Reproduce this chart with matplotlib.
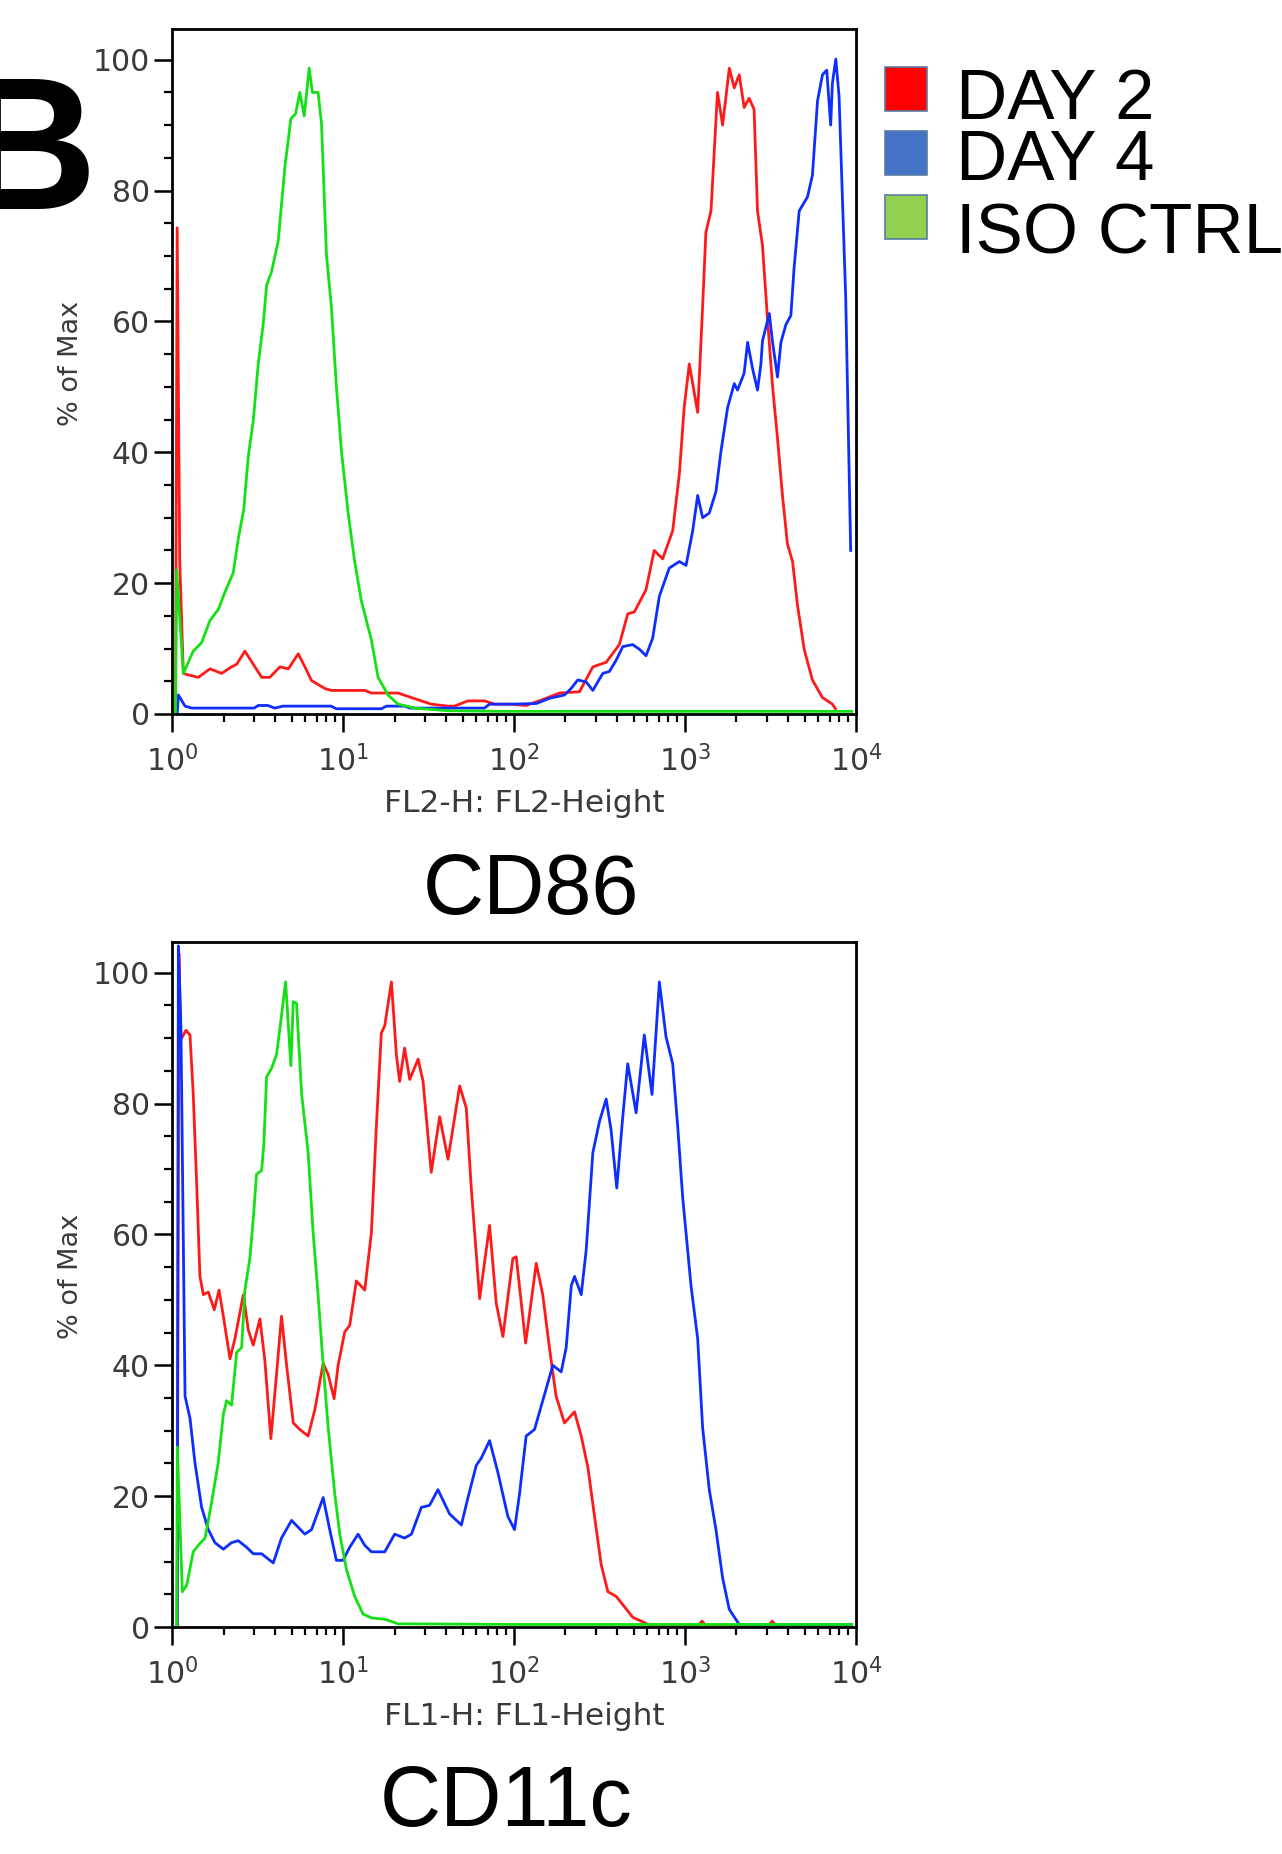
import numpy as np
import matplotlib
matplotlib.use('Agg')
import matplotlib.pyplot as plt
from matplotlib.patches import Rectangle
from matplotlib.ticker import LogLocator, MultipleLocator, NullFormatter

RED = '#ff1a1a'
BLUE = '#0d2eff'
GREEN = '#14e014'
TICK_TEXT = '#3a3a3a'

# CD86 panel, x as log10(FL2-H), y as % of max
cd86_day2_log = [0.020, 0.030, 0.045, 0.066, 0.105, 0.154, 0.222, 0.290, 0.348, 0.378, 0.426, 0.475,
                 0.524, 0.572, 0.631, 0.680, 0.738, 0.777, 0.816, 0.893, 0.932, 1.127, 1.166, 1.322,
                 1.400, 1.516, 1.614, 1.652, 1.730, 1.828, 1.886, 1.974, 2.071, 2.168, 2.266, 2.383,
                 2.461, 2.539, 2.616, 2.665, 2.704, 2.772, 2.820, 2.869, 2.928, 2.967, 2.995, 3.025,
                 3.074, 3.103, 3.122, 3.152, 3.190, 3.220, 3.259, 3.288, 3.317, 3.346, 3.375, 3.404,
                 3.424, 3.453, 3.483, 3.512, 3.541, 3.570, 3.599, 3.629, 3.658, 3.697, 3.745, 3.804,
                 3.862, 3.880]
cd86_day2_pct = [0.0, 74.3, 23.3, 6.2, 5.9, 5.6, 6.9, 6.2, 7.2, 7.6, 9.6, 7.6,
                 5.6, 5.6, 7.2, 6.9, 9.2, 7.2, 5.1, 3.9, 3.6, 3.6, 3.2, 3.2,
                 2.5, 1.5, 1.2, 1.2, 2.0, 2.0, 1.5, 1.5, 1.3, 2.2, 3.2, 3.4,
                 7.2, 7.9, 10.6, 15.3, 15.6, 19.0, 25.0, 23.7, 28.0, 36.7, 46.8, 53.5,
                 46.1, 62.2, 73.6, 76.9, 95.0, 90.0, 98.7, 95.7, 97.7, 92.7, 94.1, 92.4,
                 76.9, 71.6, 60.2, 50.1, 42.1, 33.4, 26.0, 23.3, 16.6, 9.9, 5.2, 2.5,
                 1.5, 0.8]

cd86_day4_log = [0.030, 0.037, 0.076, 0.115, 0.480, 0.504, 0.560, 0.601, 0.648, 0.687, 0.930, 0.960,
                 1.225, 1.254, 1.361, 1.390, 1.827, 1.857, 1.974, 2.130, 2.208, 2.295, 2.334, 2.373,
                 2.422, 2.461, 2.519, 2.558, 2.597, 2.636, 2.694, 2.733, 2.772, 2.811, 2.850, 2.908,
                 2.967, 3.006, 3.045, 3.074, 3.103, 3.142, 3.181, 3.210, 3.249, 3.288, 3.307, 3.346,
                 3.366, 3.395, 3.424, 3.444, 3.453, 3.493, 3.512, 3.541, 3.561, 3.590, 3.619, 3.638,
                 3.668, 3.716, 3.745, 3.775, 3.804, 3.829, 3.852, 3.862, 3.882, 3.901, 3.940, 3.969]
cd86_day4_pct = [0.0, 2.9, 1.2, 0.9, 0.9, 1.3, 1.3, 0.9, 1.2, 1.2, 1.2, 0.8,
                 0.8, 1.2, 1.2, 0.9, 0.9, 1.5, 1.5, 1.6, 2.4, 2.9, 3.9, 5.2,
                 4.9, 3.6, 6.2, 6.5, 8.2, 10.3, 10.6, 9.9, 8.9, 11.6, 18.0, 22.3,
                 23.3, 22.7, 28.0, 33.4, 30.0, 30.7, 34.0, 40.1, 46.8, 50.5, 49.5, 52.1,
                 56.8, 52.8, 49.5, 53.5, 57.0, 61.2, 56.8, 51.5, 56.8, 59.5, 60.9, 68.2,
                 76.9, 79.0, 82.3, 93.7, 97.7, 98.4, 90.0, 96.4, 100.1, 94.4, 63.5, 25.0]

cd86_iso_log = [0.020, 0.027, 0.066, 0.124, 0.173, 0.222, 0.271, 0.309, 0.358, 0.387, 0.420, 0.446,
                0.475, 0.504, 0.533, 0.553, 0.582, 0.621, 0.660, 0.695, 0.722, 0.747, 0.773, 0.802,
                0.821, 0.854, 0.874, 0.903, 0.932, 0.961, 0.991, 1.030, 1.068, 1.107, 1.166, 1.205,
                1.263, 1.322, 1.419, 1.614, 1.905, 2.500, 3.000, 3.500, 3.975]
cd86_iso_pct = [0.0, 22.0, 6.2, 9.6, 10.9, 14.3, 16.0, 18.6, 21.6, 26.7, 31.4, 39.4,
                44.8, 53.5, 59.5, 65.5, 67.6, 72.3, 83.6, 91.0, 91.7, 95.0, 91.4, 98.7,
                95.0, 95.0, 90.3, 70.2, 62.2, 50.1, 40.1, 30.7, 23.3, 17.3, 11.3, 5.6,
                2.9, 1.5, 0.9, 0.5, 0.4, 0.4, 0.4, 0.4, 0.4]

# CD11c panel, x as log10(FL1-H)
cd11c_day2_log = [0.030, 0.040, 0.052, 0.081, 0.105, 0.124, 0.144, 0.163, 0.183, 0.212, 0.247, 0.275,
                  0.300, 0.339, 0.368, 0.417, 0.446, 0.475, 0.514, 0.543, 0.578, 0.611, 0.640, 0.670,
                  0.709, 0.747, 0.796, 0.835, 0.884, 0.913, 0.948, 0.971, 1.010, 1.039, 1.078, 1.127,
                  1.166, 1.195, 1.224, 1.244, 1.283, 1.312, 1.331, 1.360, 1.390, 1.439, 1.468, 1.516,
                  1.565, 1.614, 1.682, 1.721, 1.750, 1.799, 1.857, 1.896, 1.935, 1.993, 2.013, 2.068,
                  2.130, 2.168, 2.207, 2.246, 2.295, 2.354, 2.393, 2.432, 2.471, 2.510, 2.549, 2.597,
                  2.646, 2.694, 2.753, 2.792, 3.080, 3.100, 3.120, 3.490, 3.510, 3.530, 3.975]
cd11c_day2_pct = [0.0, 103.0, 89.8, 91.2, 90.5, 81.4, 67.8, 53.6, 50.8, 51.2, 48.5, 51.5,
                  47.5, 41.0, 44.1, 50.8, 45.4, 43.1, 47.1, 40.7, 28.8, 38.6, 47.5, 40.0,
                  31.2, 30.2, 29.2, 33.2, 40.3, 38.6, 34.9, 40.0, 45.1, 46.1, 52.9, 51.5,
                  60.3, 76.6, 90.8, 91.9, 98.6, 87.5, 83.4, 88.5, 83.7, 86.8, 83.4, 69.5,
                  78.0, 71.5, 82.7, 79.3, 67.1, 50.2, 61.4, 49.5, 44.4, 56.3, 56.6, 43.4,
                  55.6, 50.8, 42.7, 35.3, 31.2, 32.9, 29.2, 24.4, 16.9, 9.5, 5.4, 4.7,
                  3.1, 1.5, 0.8, 0.3, 0.3, 0.9, 0.3, 0.3, 0.9, 0.3, 0.3]

cd11c_day4_log = [0.030, 0.037, 0.052, 0.076, 0.105, 0.134, 0.173, 0.212, 0.251, 0.300, 0.348, 0.387,
                  0.436, 0.475, 0.524, 0.592, 0.640, 0.699, 0.777, 0.816, 0.884, 0.922, 0.961, 1.000,
                  1.039, 1.088, 1.127, 1.166, 1.244, 1.302, 1.360, 1.400, 1.458, 1.506, 1.555, 1.623,
                  1.692, 1.730, 1.779, 1.808, 1.857, 1.905, 1.964, 2.003, 2.032, 2.071, 2.120, 2.168,
                  2.227, 2.276, 2.305, 2.335, 2.354, 2.393, 2.422, 2.461, 2.500, 2.539, 2.568, 2.601,
                  2.636, 2.665, 2.714, 2.762, 2.807, 2.850, 2.889, 2.928, 2.957, 2.986, 3.035, 3.074,
                  3.103, 3.142, 3.181, 3.220, 3.259, 3.317, 3.975]
cd11c_day4_pct = [0.0, 104.1, 91.5, 35.3, 31.9, 25.1, 18.3, 14.9, 12.9, 11.9, 12.9, 13.2,
                  12.2, 11.2, 11.2, 9.8, 13.6, 16.3, 14.2, 14.9, 19.8, 14.9, 10.2, 10.2,
                  12.2, 14.2, 12.5, 11.5, 11.5, 14.2, 13.6, 14.2, 18.3, 18.6, 21.0, 17.3,
                  15.6, 19.7, 24.7, 25.8, 28.5, 23.7, 16.9, 14.9, 20.3, 29.2, 30.2, 34.6,
                  40.0, 39.0, 42.7, 52.2, 53.6, 50.8, 57.6, 72.5, 77.3, 80.7, 75.9, 67.1,
                  78.0, 86.1, 78.6, 90.5, 81.4, 98.6, 90.2, 86.1, 76.6, 65.8, 52.2, 44.1,
                  30.5, 21.0, 14.9, 7.5, 2.7, 0.4, 0.4]

cd11c_iso_log = [0.027, 0.031, 0.060, 0.086, 0.124, 0.154, 0.193, 0.231, 0.270, 0.300, 0.319, 0.348,
                 0.378, 0.407, 0.426, 0.455, 0.475, 0.494, 0.524, 0.537, 0.553, 0.582, 0.611, 0.631,
                 0.664, 0.695, 0.709, 0.728, 0.758, 0.796, 0.825, 0.854, 0.884, 0.913, 0.952, 0.981,
                 1.020, 1.068, 1.117, 1.166, 1.244, 1.322, 2.000, 3.000, 3.975]
cd11c_iso_pct = [0.0, 27.5, 5.4, 6.4, 11.5, 12.5, 13.6, 19.0, 25.1, 32.5, 34.6, 33.9,
                 42.0, 42.7, 51.5, 56.3, 62.4, 69.2, 69.8, 73.9, 84.1, 85.4, 87.5, 91.5,
                 98.6, 85.8, 95.6, 95.3, 81.4, 72.5, 60.3, 50.8, 40.0, 30.5, 20.3, 14.2,
                 8.8, 4.7, 2.0, 1.4, 1.2, 0.5, 0.4, 0.4, 0.4]

LEGEND_LABELS = ['DAY 2', 'DAY 4', 'ISO CTRL']
LEGEND_COLORS = ['#ff0000', '#4472c4', '#92d050']

panels = [
    ('FL2-H: FL2-Height', 'CD86',
     [(cd86_day2_log, cd86_day2_pct, RED), (cd86_day4_log, cd86_day4_pct, BLUE),
      (cd86_iso_log, cd86_iso_pct, GREEN)]),
    ('FL1-H: FL1-Height', 'CD11c',
     [(cd11c_day2_log, cd11c_day2_pct, RED), (cd11c_day4_log, cd11c_day4_pct, BLUE),
      (cd11c_iso_log, cd11c_iso_pct, GREEN)]),
]

fig = plt.figure(figsize=(12.82, 18.54), dpi=100)
axes_rects = [[0.1342, 0.6149, 0.5335, 0.3695], [0.1342, 0.1224, 0.5335, 0.3695]]
title_pos = [(0.4140, 0.5190), (0.3950, 0.0270)]

for rect, (xlabel, title, curves), tpos in zip(axes_rects, panels, title_pos):
    ax = fig.add_axes(rect)
    for logx, pct, color in curves:
        ax.plot(10 ** np.array(logx), pct, color=color, lw=2.0, solid_joinstyle='round')
    ax.set_xscale('log')
    ax.set_xlim(1, 1e4)
    ax.set_ylim(0, 104.7)
    ax.xaxis.set_major_locator(LogLocator(base=10, numticks=10))
    ax.xaxis.set_minor_locator(LogLocator(base=10, subs=np.arange(2, 10), numticks=20))
    ax.xaxis.set_minor_formatter(NullFormatter())
    ax.yaxis.set_major_locator(MultipleLocator(20))
    ax.yaxis.set_minor_locator(MultipleLocator(5))
    ax.tick_params(which='major', direction='out', length=13, width=1.8, labelsize=21.5,
                   labelcolor=TICK_TEXT, pad=3)
    ax.tick_params(which='minor', direction='out', length=6, width=1.6)
    ax.tick_params(axis='x', which='major', pad=9)
    for sp in ax.spines.values():
        sp.set_linewidth(2.0)
    ax.set_ylabel('% of Max', fontsize=19.5, color=TICK_TEXT)
    ax.yaxis.set_label_coords(-0.128, 0.512)
    ax.set_xlabel(xlabel, fontsize=22.5, color=TICK_TEXT)
    ax.xaxis.set_label_coords(0.515, -0.110)
    fig.text(tpos[0], tpos[1], title, family='Liberation Sans', fontsize=61,
             ha='center', va='center')

fig.text(0.0757, 0.8873, 'B', family='Liberation Sans', fontweight='bold', fontsize=136,
         ha='right', va='baseline')

box_bottoms = [0.9403, 0.9056, 0.8711]
text_baselines = [0.9357, 0.9029, 0.8630]
for label, color, yb, yt in zip(LEGEND_LABELS, LEGEND_COLORS, box_bottoms, text_baselines):
    fig.add_artist(Rectangle((0.6907, yb), 0.0320, 0.0237, transform=fig.transFigure,
                             facecolor=color, edgecolor='#5a7ba6', lw=1.2))
    fig.text(0.7457, yt, label, family='Liberation Sans', fontsize=51, va='baseline')

fig.savefig('out.png', dpi=100)
